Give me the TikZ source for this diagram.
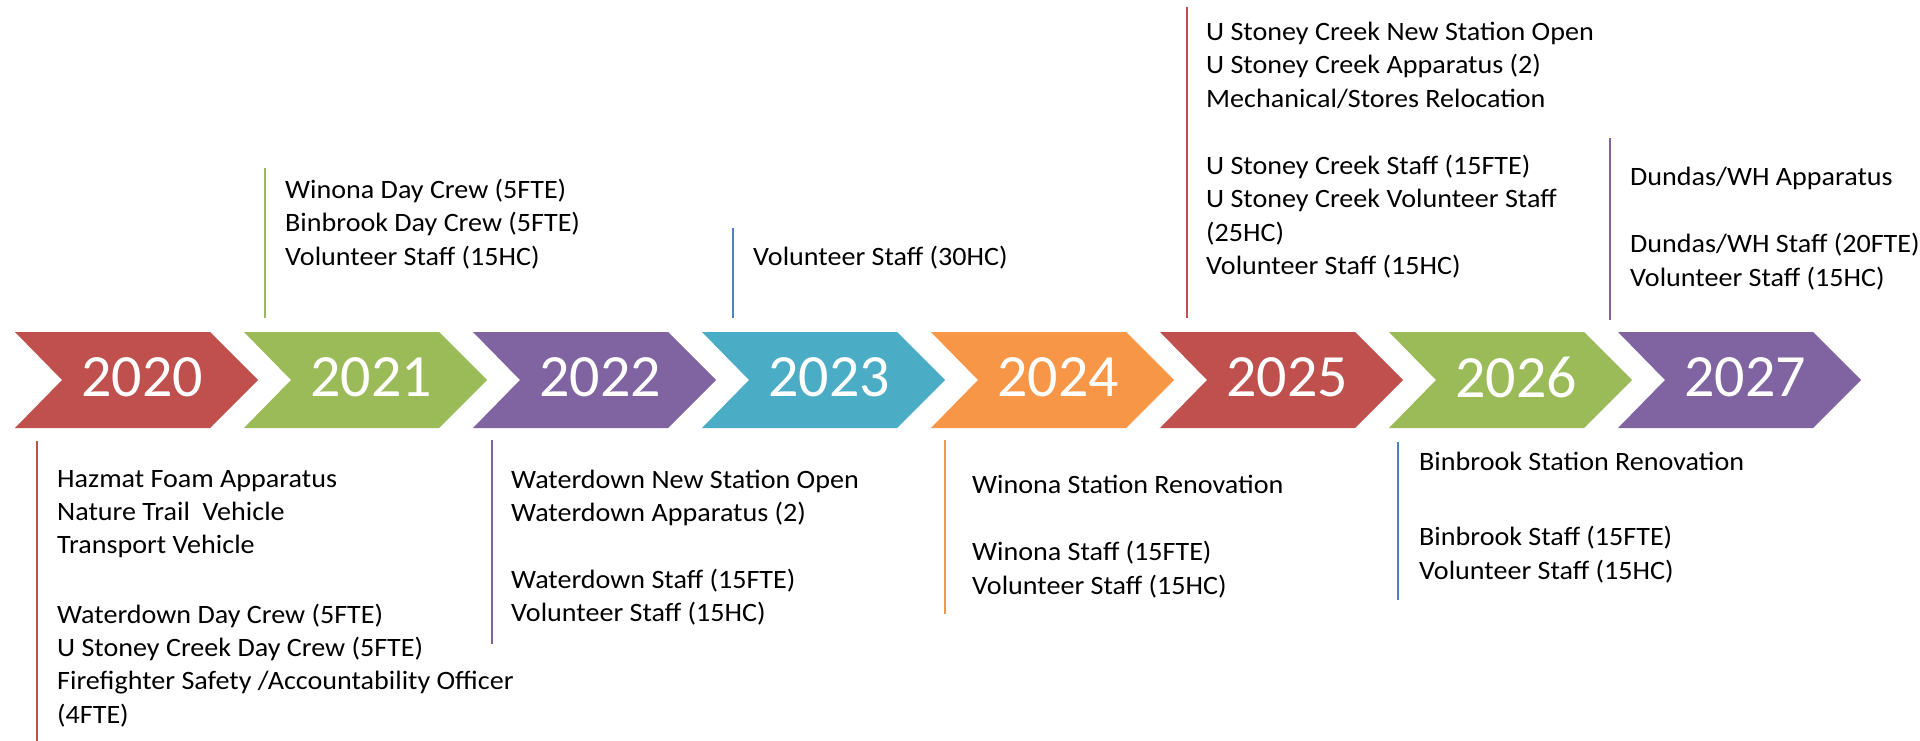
\documentclass[tikz,border=0pt]{standalone}
\usepackage{fontspec}
\setmainfont{Carlito}
\newfontfamily\notefont[FakeStretch=1.06]{Carlito}
\usepackage{xcolor}
\usetikzlibrary{positioning}

\definecolor{cRed}{HTML}{C0504D}
\definecolor{cGreen}{HTML}{9BBB59}
\definecolor{cPurple}{HTML}{8064A2}
\definecolor{cAqua}{HTML}{4BACC6}
\definecolor{cOrange}{HTML}{F79646}
\definecolor{cBlue}{HTML}{4F81BD}

\begin{document}
\begin{tikzpicture}[
  x=1pt, y=-1pt,
  yearbox/.style={text=white, inner sep=0, font=\fontsize{60}{60}\selectfont},
  note/.style={anchor=north west, align=left, inner sep=0,
    font=\notefont\fontsize{26.5}{33.3}\selectfont, execute at begin node=\strut},
  leader/.style={line width=2pt}
]
  \useasboundingbox (0,0) rectangle (1920,741);

  % Chevrons
  \foreach \yr/\col [count=\i from 0] in {2020/cRed, 2021/cGreen, 2022/cPurple,
      2023/cAqua, 2024/cOrange, 2025/cRed, 2026/cGreen, 2027/cPurple}{
    \pgfmathsetmacro{\L}{15+229*\i}
    \fill[\col] (\L,332) -- ++(195,0) -- ++(48,48) -- ++(-48,48)
      -- ++(-195,0) -- ++(47,-48) -- cycle;
    \node[yearbox] (y\yr) at (\L+127,377) {\yr};
  }

  % Notes below
  \node[note] (n2020) at (57,470) {Hazmat Foam Apparatus\\
    Nature Trail\ \ Vehicle\\
    Transport Vehicle\\[36pt]
    Waterdown Day Crew (5FTE)\\
    U Stoney Creek Day Crew (5FTE)\\
    Firefighter Safety /Accountability Officer\\
    (4FTE)};
  \node[note] (n2022) at (511,470) {Waterdown New Station Open\\
    Waterdown Apparatus (2)\\[33pt]
    Waterdown Staff (15FTE)\\
    Volunteer Staff (15HC)};
  \node[note] (n2024) at (972,475) {Winona Station Renovation\\[34pt]
    Winona Staff (15FTE)\\
    Volunteer Staff (15HC)};
  \node[note] (n2026) at (1419,452) {Binbrook Station Renovation\\[42pt]
    Binbrook Staff (15FTE)\\
    Volunteer Staff (15HC)};

  % Notes above
  \node[note] (n2021) at (285,179) {Winona Day Crew (5FTE)\\
    Binbrook Day Crew (5FTE)\\
    Volunteer Staff (15HC)};
  \node[note] (n2023) at (753,242) {Volunteer Staff (30HC)};
  \node[note] (n2025) at (1206,22) {U Stoney Creek New Station Open\\
    U Stoney Creek Apparatus (2)\\
    Mechanical/Stores Relocation\\[34pt]
    U Stoney Creek Staff (15FTE)\\
    U Stoney Creek Volunteer Staff\\
    (25HC)\\
    Volunteer Staff (15HC)};
  \node[note] (n2027) at (1630,167) {Dundas/WH Apparatus\\[34pt]
    Dundas/WH Staff (20FTE)\\
    Volunteer Staff (15HC)};

  % Leader lines
  \draw[leader, cRed] (37,441) -- (37,741);
  \draw[leader, cGreen] (265,168) -- (265,318);
  \draw[leader, cPurple] (492,440) -- (492,644);
  \draw[leader, cBlue] (733,228) -- (733,318);
  \draw[leader, cOrange] (945,440) -- (945,614);
  \draw[leader, cRed] (1187,7) -- (1187,318);
  \draw[leader, cBlue] (1398,442) -- (1398,600);
  \draw[leader, cPurple] (1610,138) -- (1610,320);
\end{tikzpicture}
\end{document}
